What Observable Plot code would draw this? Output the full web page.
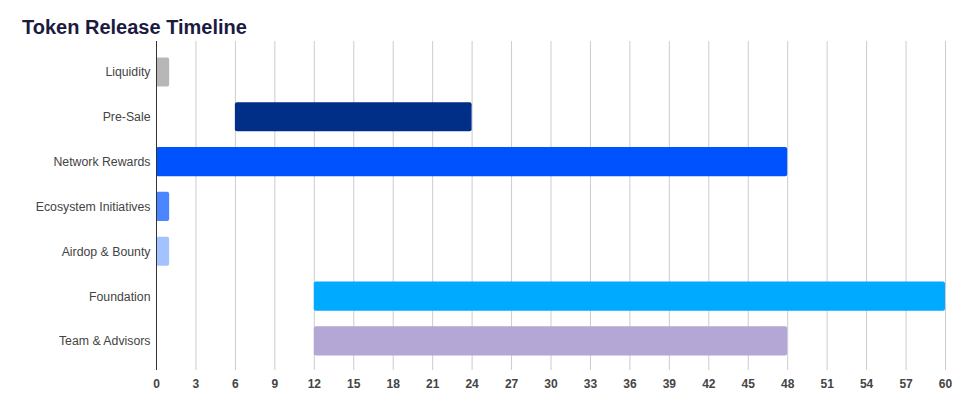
<!DOCTYPE html>
<html><head><meta charset="utf-8">
<script src="https://cdn.jsdelivr.net/npm/d3@7"></script>
<script src="https://cdn.jsdelivr.net/npm/@observablehq/plot@0.6"></script>
<style>
body{margin:0;background:#fff;font-family:"Liberation Sans",Arial,sans-serif;}
#wrap{position:relative;width:975px;height:410px;}
#title{position:absolute;top:17px;left:22px;font-size:20px;line-height:20px;font-weight:bold;color:#1b1b40;white-space:nowrap;z-index:2;}
#chart{position:absolute;top:30px;left:0;z-index:1;}
</style></head>
<body>
<div id="wrap"><div id="title">Token Release Timeline</div><div id="chart"></div></div>
<script>
const categories = ["Liquidity","Pre-Sale","Network Rewards","Ecosystem Initiatives","Airdop & Bounty","Foundation","Team & Advisors"];
const starts = [0, 6, 0, 0, 0, 12, 12];
const ends = [1, 24, 48, 1, 1, 60, 48];
const colors = ["#b7b7b7","#012f87","#0052ff","#4a86ff","#a4c2ff","#00aaff","#b4a7d6"];
const xTicks = [0,3,6,9,12,15,18,21,24,27,30,33,36,39,42,45,48,51,54,57,60];

const data = categories.map((c,i)=>({category:c,start:starts[i],end:ends[i]}));

const chart = Plot.plot({
  width: 975,
  height: 380,
  marginTop: 11,
  marginBottom: 40,
  marginLeft: 156,
  marginRight: 30,
  style: {fontFamily: '"Liberation Sans", Arial, sans-serif', fontSize: "12px", background: "transparent"},
  x: {domain: [0, 60]},
  y: {domain: categories, paddingInner: 0.35, paddingOuter: 0.345, align: 0.53, round: false},
  color: {domain: categories, range: colors},
  marks: [
    Plot.ruleX(xTicks, {stroke: "#cccccc", strokeWidth: 1}),
    Plot.barX(data, {x1: "start", x2: "end", y: "category", fill: "category", rx: 2}),
    Plot.ruleX([0], {stroke: "#333333", strokeWidth: 1}),
    Plot.axisX({ticks: xTicks, tickSize: 0, tickPadding: 9, fontWeight: "bold", fill: "#444", fontSize: 12, label: null}),
    Plot.axisY({tickSize: 0, tickPadding: 6, fill: "#444", fontSize: 12.3, label: null})
  ]
});
document.getElementById("chart").appendChild(chart);
</script>
</body></html>
